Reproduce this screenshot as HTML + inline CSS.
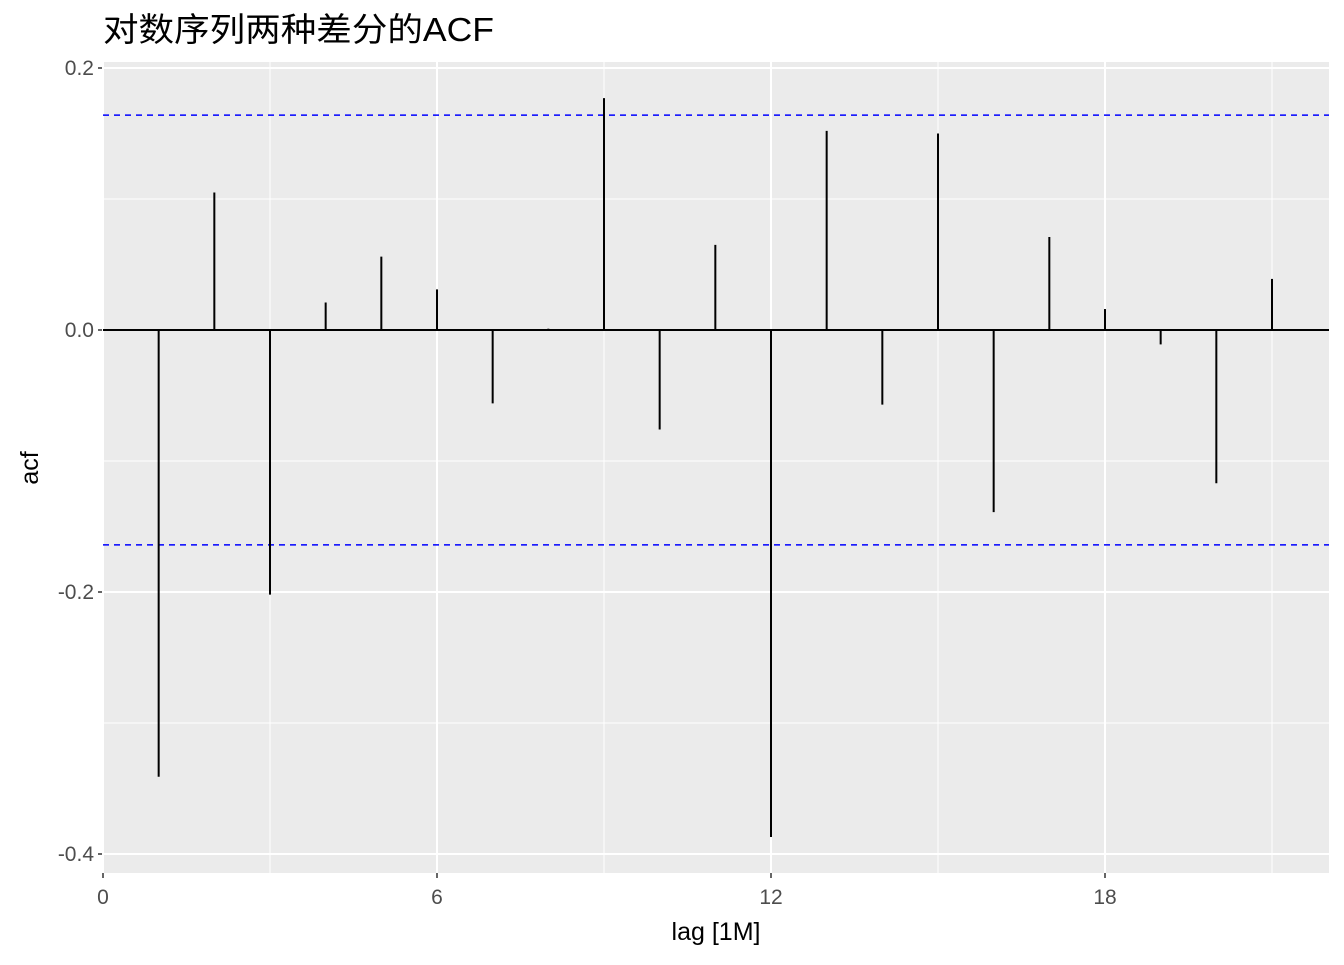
<!DOCTYPE html>
<html><head><meta charset="utf-8"><style>
body{margin:0;background:#fff;}
svg text{font-family:"Liberation Sans","Noto Sans CJK SC",sans-serif;}
</style></head><body>
<svg width="1344" height="960" id="chart">
<rect width="1344" height="960" fill="#fff"/>
<text x="103" y="41" font-size="33" textLength="391" lengthAdjust="spacingAndGlyphs" fill="#000">对数序列两种差分的ACF</text>
<g id="plot"></g>
<text x="716" y="940" font-size="25" text-anchor="middle" fill="#000">lag [1M]</text>
<text transform="translate(38,468) rotate(-90)" font-size="25" text-anchor="middle" fill="#000">acf</text>
</svg>
<script>
const lags=[1,2,3,4,5,6,7,8,9,10,11,12,13,14,15,16,17,18,19,20,21];
const acf=[-0.341,0.105,-0.202,0.021,0.056,0.031,-0.056,0.001,0.177,-0.076,0.065,-0.387,0.152,-0.057,0.150,-0.139,0.071,0.016,-0.011,-0.117,0.039];
const ci=0.164;
const xTicks=[0,6,12,18];
const xMinor=[3,9,15,21];
const yTicks=[0.2,0.0,-0.2,-0.4];
const yTickLabels=["0.2","0.0","-0.2","-0.4"];
const yMinor=[0.1,-0.1,-0.3];
const L=103,R=1329,T=62,B=873;
const sx=v=>103+v*(771-103)/12;
const sy=v=>330-v*(854-330)/(-0.4)*-1;
const ns="http://www.w3.org/2000/svg";
const g=document.getElementById('plot');
function mk(t,a){const e=document.createElementNS(ns,t);for(const k in a)e.setAttribute(k,a[k]);g.appendChild(e);return e;}
let bg=mk('rect',{x:L,y:T,width:R-L,height:B-T,fill:'#ebebeb'});


yMinor.forEach(v=>{const e=mk('line',{x1:L,x2:R,y1:sy(v),y2:sy(v),stroke:'#fff','stroke-width':1});

});
xMinor.forEach(v=>{const e=mk('line',{x1:sx(v),x2:sx(v),y1:T,y2:B,stroke:'#fff','stroke-width':1});

});
yTicks.forEach((v,i)=>{const e=mk('line',{x1:L,x2:R,y1:sy(v),y2:sy(v),stroke:'#fff','stroke-width':2});


const t=mk('line',{x1:L-5,x2:L,y1:sy(v),y2:sy(v),stroke:'#333','stroke-width':1.5});


const l=mk('text',{x:L-9,y:sy(v)+7,'font-size':21,'text-anchor':'end',fill:'#4d4d4d'});l.textContent=yTickLabels[i];

});
xTicks.forEach(v=>{const e=mk('line',{x1:sx(v),x2:sx(v),y1:T,y2:B,stroke:'#fff','stroke-width':2});


const t=mk('line',{x1:sx(v),x2:sx(v),y1:B,y2:B+5,stroke:'#333','stroke-width':1.5});


const l=mk('text',{x:sx(v),y:B+31,'font-size':21,'text-anchor':'middle',fill:'#4d4d4d'});l.textContent=v;

});
let z=mk('line',{x1:L,x2:R,y1:sy(0),y2:sy(0),stroke:'#000','stroke-width':2});


[ci,-ci].forEach(v=>{const e=mk('line',{x1:L,x2:R,y1:sy(v),y2:sy(v),stroke:'#0000ff','stroke-width':1.5,'stroke-dasharray':'6,5'});

});
lags.forEach((k,i)=>{const e=mk('line',{x1:sx(k),x2:sx(k),y1:sy(0),y2:sy(acf[i]),stroke:'#000','stroke-width':2});

});
</script>
</body></html>
